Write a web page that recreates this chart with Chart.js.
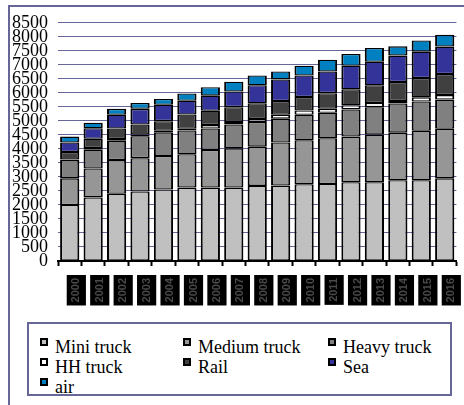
<!DOCTYPE html>
<html>
<head>
<meta charset="utf-8">
<script src="https://cdn.jsdelivr.net/npm/chart.js@4/dist/chart.umd.min.js"></script>
<style>
  html, body { margin: 0; padding: 0; width: 464px; height: 405px; overflow: hidden; background: #fff; }
  #frame { position: absolute; left: 8px; top: 5px; width: 520px; height: 460px;
           border-left: 2px solid #666699; border-top: 2px solid #666699; }
  #wrap { position: absolute; left: 10px; top: 2px; width: 460px; height: 315px; }
  #legend { position: absolute; left: 27px; top: 322px; width: 421px; height: 70px;
            border: 2px solid #666699; font-family: "Liberation Serif", serif; font-size: 18px; }
  .item { position: absolute; line-height: 20px; white-space: nowrap; color: #000; }
  .swatch { position: absolute; left: 0; top: 1px; width: 8px; height: 8px;
            box-sizing: border-box; border: 2px solid #000; }
  .item span.txt { position: absolute; left: 15px; top: 0; }
</style>
</head>
<body>
<div id="frame"></div>
<div id="wrap"><canvas id="freightChart"></canvas></div>
<div id="legend"></div>
<script>
// categories
const years = ["2000", "2001", "2002", "2003", "2004", "2005", "2006", "2007", "2008",
               "2009", "2010", "2011", "2012", "2013", "2014", "2015", "2016"];

// series values (stacked, bottom to top)
const miniTruck   = [2000, 2270, 2400, 2480, 2550, 2620, 2620, 2620, 2680, 2690, 2740, 2750, 2810, 2810, 2880, 2880, 2950];
const mediumTruck = [950, 1030, 1200, 1190, 1200, 1190, 1340, 1400, 1400, 1540, 1570, 1630, 1630, 1700, 1700, 1770, 1770];
const heavyTruck  = [650, 670, 690, 780, 840, 850, 770, 850, 880, 850, 910, 910, 970, 980, 1040, 1040, 1040];
const hhTruck     = [20, 60, 60, 60, 60, 60, 120, 90, 110, 140, 150, 140, 150, 150, 90, 150, 160];
const rail        = [270, 330, 380, 360, 340, 510, 510, 530, 560, 490, 480, 560, 570, 630, 680, 690, 750];
const sea         = [340, 375, 490, 560, 585, 490, 540, 560, 640, 770, 770, 770, 840, 840, 940, 940, 980];
const air         = [210, 200, 210, 210, 210, 260, 300, 350, 350, 280, 350, 420, 420, 490, 330, 400, 420];

const seriesNames = ["Mini truck", "Medium truck", "Heavy truck", "HH truck", "Rail", "Sea", "air"];
const seriesColors = ["#c0c0c0", "#969696", "#808080", "#ffffff", "#404040", "#333399", "#0080c0"];
const seriesData = [miniTruck, mediumTruck, heavyTruck, hhTruck, rail, sea, air];

const datasets = seriesNames.map((name, i) => ({
  label: name,
  data: seriesData[i],
  backgroundColor: seriesColors[i],
  borderColor: "#000",
  borderWidth: { top: 1.3, bottom: 1.3, left: 2, right: 2 },
  borderSkipped: false,
  barPercentage: 0.82,
  categoryPercentage: 1.0,
}));

const chart = new Chart(document.getElementById("freightChart"), {
  type: "bar",
  data: { labels: years, datasets: datasets },
  options: {
    responsive: true,
    maintainAspectRatio: false,
    animation: false,
    layout: { padding: { top: 6, right: 3, bottom: 0, left: 0 } },
    plugins: { legend: { display: false }, tooltip: { enabled: false } },
    scales: {
      x: {
        stacked: true,
        grid: { drawOnChartArea: false, drawTicks: true, tickLength: 5, tickWidth: 2, tickColor: "#000", offset: true },
        border: { display: true, color: "#000", width: 2 },
        ticks: {
          autoSkip: false,
          minRotation: 90,
          maxRotation: 90,
          padding: 12,
          color: "#4a4a4a",
          font: { family: "'Liberation Sans', sans-serif", size: 11, weight: "bold" },
          showLabelBackdrop: true,
          backdropColor: "#000",
          backdropPadding: 3,
        },
        afterFit: (scale) => { scale.height = 56; },
      },
      y: {
        stacked: true,
        min: 0,
        max: 8500,
        grid: { color: "#666699", lineWidth: 1, drawTicks: false },
        border: { display: false },
        ticks: {
          stepSize: 500,
          autoSkip: false,
          padding: 10,
          color: "#000",
          font: { family: "'Liberation Serif', serif", size: 18 },
          callback: (value) => String(value),
        },
        afterFit: (scale) => { scale.width = 48; },
      },
    },
  },
});

// legend in a 3-column grid, built from the chart's datasets
const legendEl = document.getElementById("legend");
const colLeft = [11, 154, 299];
const rowTop = [13, 33, 53];
chart.data.datasets.forEach((ds, i) => {
  const item = document.createElement("div");
  item.className = "item";
  item.style.left = colLeft[i % 3] + "px";
  item.style.top = rowTop[Math.floor(i / 3)] + "px";
  const sw = document.createElement("div");
  sw.className = "swatch";
  sw.style.background = ds.backgroundColor;
  const txt = document.createElement("span");
  txt.className = "txt";
  txt.textContent = ds.label;
  item.appendChild(sw);
  item.appendChild(txt);
  legendEl.appendChild(item);
});
</script>
</body>
</html>
